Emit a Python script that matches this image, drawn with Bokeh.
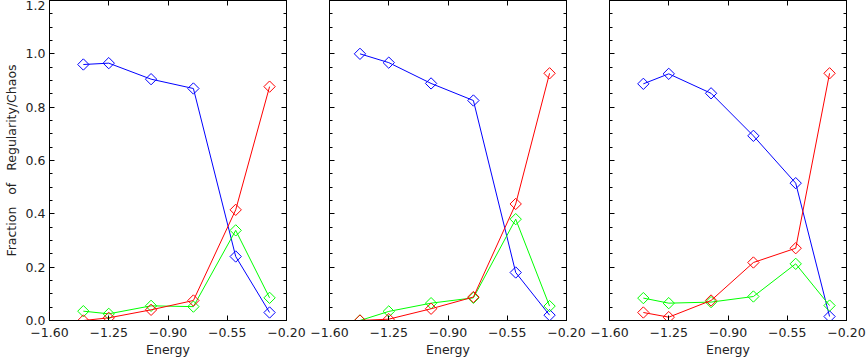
import numpy as np
from bokeh.plotting import figure
from bokeh.layouts import row
from bokeh.models import LinearAxis, FixedTicker, Range1d
from bokeh.embed import file_html
from bokeh.resources import INLINE

# ---- data ----
energy_1 = [-1.40, -1.25, -1.00, -0.75, -0.50, -0.30]
energy_2 = [-1.42, -1.25, -1.00, -0.75, -0.50, -0.30]
energy_3 = [-1.40, -1.25, -1.00, -0.75, -0.50, -0.30]

regular_1 = [0.96, 0.965, 0.905, 0.87, 0.24, 0.03]
chaotic_1 = [0.0, 0.01, 0.04, 0.075, 0.415, 0.877]
sticky_1 = [0.035, 0.025, 0.055, 0.052, 0.338, 0.085]

regular_2 = [1.0, 0.967, 0.889, 0.825, 0.18, 0.02]
chaotic_2 = [0.0, 0.005, 0.044, 0.088, 0.437, 0.927]
sticky_2 = [0.0, 0.034, 0.065, 0.085, 0.38, 0.054]

regular_3 = [0.8875, 0.925, 0.852, 0.6925, 0.515, 0.015]
chaotic_3 = [0.03, 0.0125, 0.075, 0.2175, 0.271, 0.927]
sticky_3 = [0.084, 0.065, 0.069, 0.09, 0.2125, 0.056]

x_ticks = [-1.60, -1.25, -0.90, -0.55, -0.20]
x_tick_labels = ["\u22121.60", "\u22121.25", "\u22120.90", "\u22120.55", "\u22120.20"]
y_ticks = [0.0, 0.2, 0.4, 0.6, 0.8, 1.0, 1.2]
y_tick_labels = ["0.0", "0.2", "0.4", "0.6", "0.8", "1.0", "1.2"]
y_minor = [round(v, 2) for v in np.arange(0.0, 1.2001, 0.05)]
x_label = "Energy"
y_label = "Fraction\u00a0\u00a0 of\u00a0\u00a0 Regularity/Chaos"

X0, X1 = -1.6, -0.2
Y0, Y1 = 0.0, 1.2

FONT = "DejaVu Sans"
TXT = "#222222"
FS = "12.5px"
H = 361
FRAME_W = 237
BOTTOM = 41


def style_axis(ax, labels=None):
    ax.axis_line_color = "black"
    ax.major_tick_line_color = "black"
    ax.minor_tick_line_color = "black"
    ax.major_tick_in = 5
    ax.major_tick_out = 0
    ax.minor_tick_in = 3
    ax.minor_tick_out = 0
    ax.major_label_text_font = FONT
    ax.axis_label_text_font = FONT
    ax.axis_label_text_color = TXT
    ax.axis_label_text_font_style = "normal"
    ax.axis_label_text_font_size = FS
    if labels is None:
        ax.major_label_text_color = None
        ax.major_label_text_font_size = "0px"
        ax.major_label_standoff = 0
    else:
        ax.major_label_text_color = TXT
        ax.major_label_text_font_size = FS
        ax.major_label_overrides = labels


def make_panel(xs, blue, red, green, show_ylab, ml, mr, margin):
    w = ml + FRAME_W + mr
    p = figure(width=w, height=H, x_range=Range1d(X0, X1), y_range=Range1d(Y0, Y1),
               output_backend="svg", toolbar_location=None,
               x_axis_type=None, y_axis_type=None,
               min_border_left=ml, min_border_right=mr,
               min_border_top=0, min_border_bottom=BOTTOM,
               margin=margin)
    p.outline_line_color = "black"
    p.background_fill_color = "white"
    p.border_fill_color = None
    p.xgrid.visible = False
    p.ygrid.visible = False

    xt = FixedTicker(ticks=x_ticks, minor_ticks=[])
    yt = FixedTicker(ticks=y_ticks, minor_ticks=y_minor)

    bottom = LinearAxis(ticker=xt, axis_label=x_label)
    style_axis(bottom, {t: l for t, l in zip(x_ticks, x_tick_labels)})
    bottom.major_label_standoff = 7
    bottom.axis_label_standoff = 2
    p.add_layout(bottom, "below")

    top = LinearAxis(ticker=xt)
    style_axis(top)
    p.add_layout(top, "above")

    if show_ylab:
        left = LinearAxis(ticker=yt, axis_label=y_label)
        style_axis(left, {t: l for t, l in zip(y_ticks, y_tick_labels)})
        left.major_label_standoff = 4
        left.axis_label_standoff = 4
    else:
        left = LinearAxis(ticker=yt)
        style_axis(left)
    p.add_layout(left, "left")

    right = LinearAxis(ticker=yt)
    style_axis(right)
    p.add_layout(right, "right")

    for ys, col in ((blue, "#0000ff"), (green, "#00ff00"), (red, "#ff0000")):
        p.line(xs, ys, line_color=col, line_width=1)
        p.scatter(xs, ys, marker="square", size=8, angle=np.pi / 4,
                  fill_color=None, line_color=col, line_width=1)
    return p


p1 = make_panel(energy_1, regular_1, chaotic_1, sticky_1, True, 49, 22, (0, 0, -8, 0))
p2 = make_panel(energy_2, regular_2, chaotic_2, sticky_2, False, 40, 22, (0, 0, -8, -19))
p3 = make_panel(energy_3, regular_3, chaotic_3, sticky_3, False, 40, 21, (0, -8, -8, -19))

layout = row(p1, p2, p3, spacing=0)
open("out.html", "w").write(file_html(layout, INLINE))
